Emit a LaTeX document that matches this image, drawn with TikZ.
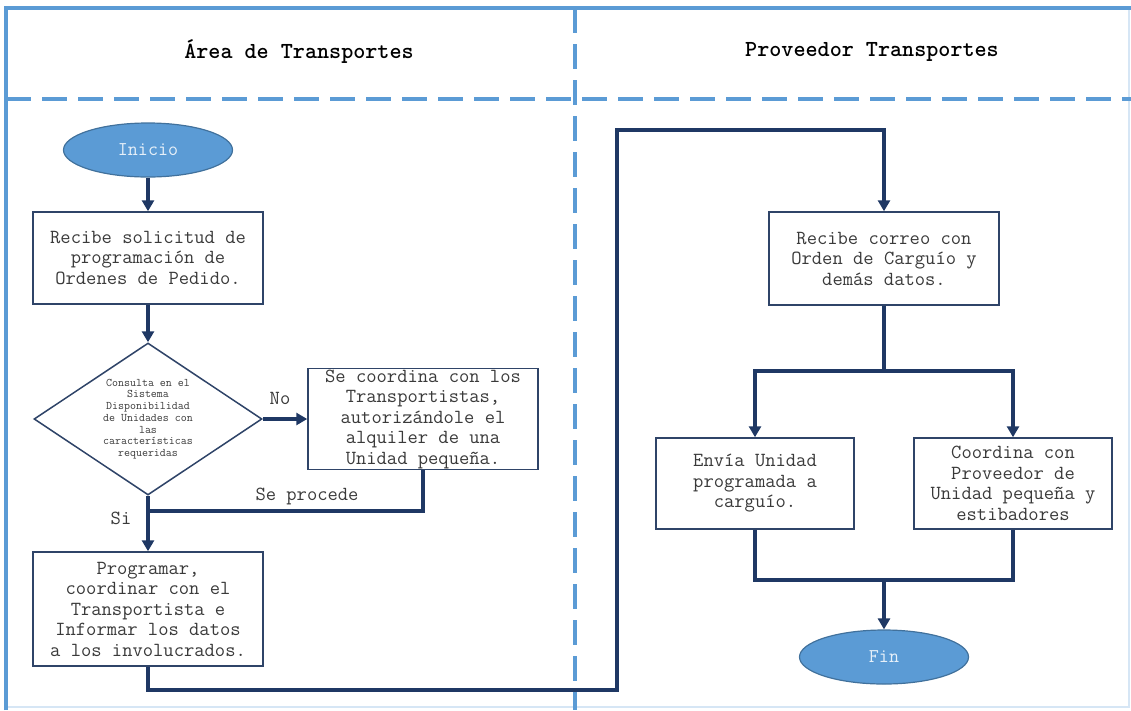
\documentclass[tikz,border=0pt]{standalone}
\usepackage{fontspec}
\usetikzlibrary{shapes.geometric,arrows.meta}
\definecolor{lane}{HTML}{5B9BD5}
\definecolor{flow}{HTML}{1F3864}
\definecolor{boxline}{HTML}{2F4468}
\definecolor{ink}{HTML}{3A3A3A}
\definecolor{ovalline}{HTML}{41719C}
\begin{document}
\begin{tikzpicture}[x=1pt,y=-1pt,
  lanedash/.style={draw=lane,line width=3.5pt,dash pattern=on 25pt off 11pt},
  process/.style={draw=boxline,line width=1.5pt,fill=white,text=ink,align=center,
    minimum width=230pt,inner sep=0pt,font=\ttfamily\fontsize{20}{20.5}\selectfont},
  terminal/.style={ellipse,draw=ovalline,line width=1.2pt,fill=lane,text=white!85!lane,
    minimum width=169pt,minimum height=54pt,inner sep=0pt,font=\ttfamily\fontsize{19.5}{20}\selectfont},
  decision/.style={diamond,shape aspect=1.5,draw=boxline,line width=1.5pt,fill=white,text=ink,
    align=center,minimum width=228pt,minimum height=152pt,inner sep=0pt,
    font=\ttfamily\fontsize{11.6}{11.7}\selectfont},
  flowline/.style={draw=flow,line width=3.5pt},
  flowarrow/.style={flowline,-{Triangle[length=11pt,width=12pt]}},
  lanetitle/.style={font=\ttfamily\bfseries\fontsize{23}{26}\selectfont},
  tag/.style={text=ink,font=\ttfamily\fontsize{20}{20.5}\selectfont}]

\useasboundingbox (0,0) rectangle (1131,710);

% swimlane frame and dividers
\draw[lane!25,line width=2pt] (1129,8) -- (1129,707) -- (6,707);
\draw[draw=lane,line width=3.5pt] (6,710) -- (6,8) -- (1131,8);
\draw[lanedash] (6,99) -- (1131,99);
\draw[lanedash] (575,8) -- (575,710);

\node[lanetitle] (t1) at (299,52) {Área de Transportes};
\node[lanetitle] (t2) at (872,52) {Proveedor Transportes};

% left lane
\node[terminal] (inicio) at (148,150) {Inicio};
\node[process,minimum height=92pt] (recibe) at (148,258)
  {Recibe solicitud de\\programación de\\Ordenes de Pedido.};
\node[decision] (consulta) at (148,419)
  {Consulta en el\\Sistema\\Disponibilidad\\de Unidades con\\las\\características\\requeridas};
\node[process,minimum height=101pt] (coordina) at (423,419)
  {Se coordina con los\\Transportistas,\\autorizándole el\\alquiler de una\\Unidad pequeña.};
\node[process,minimum height=114pt] (programar) at (148,609)
  {Programar,\\coordinar con el\\Transportista e\\Informar los datos\\a los involucrados.};

% right lane
\node[process,minimum height=93pt] (correo) at (884,258.5)
  {Recibe correo con\\Orden de Carguío y\\demás datos.};
\node[process,minimum width=198pt,minimum height=91pt] (envia) at (755,483.5)
  {Envía Unidad\\programada a\\carguío.};
\node[process,minimum width=198pt,minimum height=91pt] (prov) at (1013,483.5)
  {Coordina con\\Proveedor de\\Unidad pequeña y\\estibadores};
\node[terminal] (fin) at (884,657) {Fin};

% labels
\node[tag] (no) at (280,398) {No};
\node[tag] (proc) at (307,496) {Se procede};
\node[tag] (si) at (121,518) {Si};

% connectors
\coordinate (merge) at (148,511);
\coordinate (turnA) at (617,690);
\coordinate (turnB) at (617,130);
\coordinate (split) at (884,371);
\coordinate (join) at (884,580);

\draw[flowarrow] (inicio) -- (recibe);
\draw[flowarrow] (recibe) -- (consulta);
\draw[flowarrow] (consulta.east) -- (coordina.west);
\draw[flowline] (coordina.south) |- (merge);
\draw[flowarrow] (consulta.south) -- (programar.north);
\draw[flowarrow,line join=miter] (programar.south) |- (turnA) -- (turnB) -| (correo.north);
\draw[flowarrow] (correo.south) -- (split) -| (envia.north);
\draw[flowarrow] (split) -| (prov.north);
\draw[flowline] (envia.south) |- (join) -| (prov.south);
\draw[flowarrow] (join) -- (fin.north);
\end{tikzpicture}
\end{document}
